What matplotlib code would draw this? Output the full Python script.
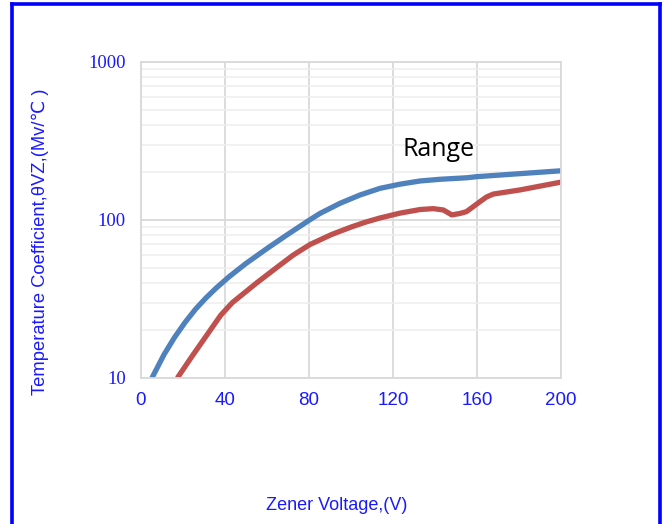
import matplotlib

matplotlib.use("Agg")
import matplotlib.pyplot as plt
from matplotlib.lines import Line2D
from matplotlib.ticker import FixedLocator, LogLocator, NullFormatter

# upper curve (blue)
blue_v = [5.2, 11, 16, 21, 26, 31, 36, 42, 50, 60, 70, 80,
          85.2, 94.8, 104.3, 113.8, 123.3, 132.9, 142.4, 155, 159.8, 200.3]
blue_tc = [10, 14.1, 18.1, 22.5, 27.3, 32.2, 37.3, 43.8, 53.1, 66, 81.3, 99.5,
           110, 127.6, 144, 158.6, 168.5, 176.6, 181, 185, 188, 205]

# lower curve (red)
red_v = [17.3, 24.1, 32.9, 38, 43.5, 55.1, 64.6, 72.5, 80.5, 90.8, 100.3,
         107, 113.8, 123.3, 132.9, 139.2, 144, 148, 151.9, 155, 161.4, 164.6,
         167.8, 180.5, 200.3]
red_tc = [10, 13.6, 20, 25, 30, 40, 50, 60, 70, 81, 90.5,
          97, 103, 110.5, 116.5, 118, 115.7, 107.7, 110, 113, 130.6, 140,
          146, 155, 174]

x_ticks = [0, 40, 80, 120, 160, 200]
y_ticks = [10, 100, 1000]

text_blue = "#1a1aff"

fig = plt.figure(figsize=(6.64, 5.24), dpi=100)
ax = fig.add_axes([141 / 664, 1 - 378 / 524, 420 / 664, 316 / 524])

ax.plot(blue_v, blue_tc, color="#4f81bd", linewidth=3.8,
        solid_capstyle="butt", solid_joinstyle="round")
ax.plot(red_v, red_tc, color="#c0504d", linewidth=3.8,
        solid_capstyle="butt", solid_joinstyle="round")

ax.set_yscale("log")
ax.set_xlim(0, 200)
ax.set_ylim(10, 1000)

ax.xaxis.set_major_locator(FixedLocator(x_ticks))
ax.yaxis.set_major_locator(FixedLocator(y_ticks))
ax.yaxis.set_minor_locator(LogLocator(base=10, subs=range(2, 10)))
ax.yaxis.set_minor_formatter(NullFormatter())
ax.set_yticklabels([str(v) for v in y_ticks], family="Liberation Serif",
                   fontsize=13.5, color=text_blue)
ax.set_xticklabels([str(v) for v in x_ticks], family="Liberation Sans",
                   fontsize=13.5, color=text_blue)
ax.tick_params(which="both", length=0)
ax.tick_params(axis="y", pad=11)
ax.tick_params(axis="x", pad=10)

ax.grid(True, which="major", color="#d9d9d9", linewidth=1.3)
ax.grid(True, which="minor", axis="y", color="#efefef", linewidth=1.2)
ax.set_axisbelow(True)
for spine in ax.spines.values():
    spine.set_color("#d9d9d9")
    spine.set_linewidth(1.3)

ax.text(124.6, 254, "Range", family="Open Sans", fontsize=18, color="black",
        ha="left", va="baseline")

fig.text(40 / 664, 1 - 242 / 524, "Temperature Coefficient,θVZ,(Mv/℃ )",
         rotation=90, ha="center", va="center", fontsize=13.2,
         family=["Liberation Sans", "DejaVu Sans"], color=text_blue)
fig.text(337 / 664, 1 - 506 / 524, "Zener Voltage,(V)", ha="center",
         va="center", fontsize=13, family="Liberation Sans", color=text_blue)

# blue frame (left, top, right; bottom edge is cut off)
frame_kw = dict(color="#0000ff", linewidth=2.6, transform=fig.transFigure)
fig.add_artist(Line2D([11.5 / 664, 11.5 / 664], [0, 1 - 3.5 / 524], **frame_kw))
fig.add_artist(Line2D([11.5 / 664, 660 / 664], [1 - 3.5 / 524, 1 - 3.5 / 524], **frame_kw))
fig.add_artist(Line2D([660 / 664, 660 / 664], [0, 1 - 3.5 / 524], **frame_kw))

fig.savefig("out.png", dpi=100)
